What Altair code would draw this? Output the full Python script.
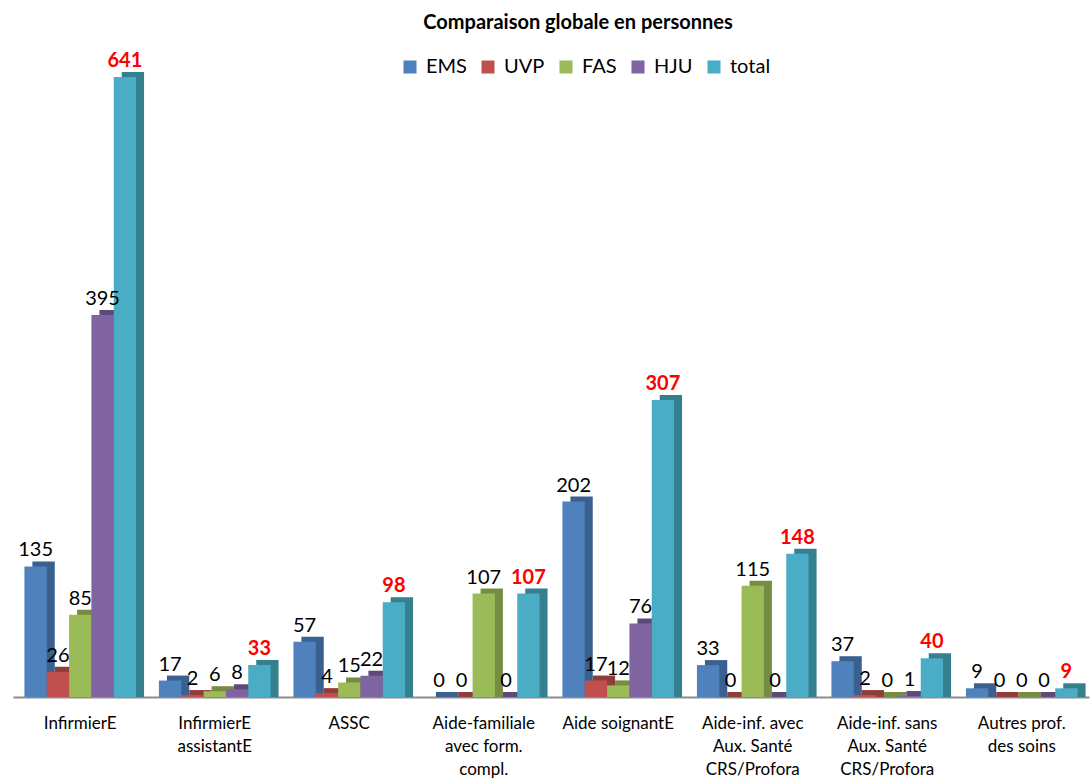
import altair as alt
import pandas as pd

categories = [
    "InfirmierE",
    "InfirmierE|assistantE",
    "ASSC",
    "Aide-familiale|avec form.|compl.",
    "Aide soignantE",
    "Aide-inf. avec|Aux. Santé|CRS/Profora",
    "Aide-inf. sans|Aux. Santé|CRS/Profora",
    "Autres prof.|des soins",
]
series = ["EMS", "UVP", "FAS", "HJU", "total"]
ems = [135, 17, 57, 0, 202, 33, 37, 9]
uvp = [26, 2, 4, 0, 17, 0, 2, 0]
fas = [85, 6, 15, 107, 12, 115, 0, 0]
hju = [395, 8, 22, 0, 76, 0, 1, 0]
total = [641, 33, 98, 107, 307, 148, 40, 9]

front_colors = ["#4F81BD", "#C0504D", "#9BBB59", "#8064A2", "#4BACC6"]
side_colors = ["#3A6090", "#8F3C3A", "#748D43", "#5E4A7A", "#34808F"]
side_map = dict(zip(series, side_colors))

rows = []
for s, vals in zip(series, [ems, uvp, fas, hju, total]):
    for c, v in zip(categories, vals):
        rows.append({"category": c, "series": s, "value": v, "dark": side_map[s]})
df = pd.DataFrame(rows)

FONT = "Lato"
WIDTH = 1076
PAD_IN, PAD_OUT = 0.17, 0.085
STEP = WIDTH / (len(categories) - PAD_IN + 2 * PAD_OUT)
BAND = STEP * (1 - PAD_IN)
DEPTH_X, DEPTH_Y = 8, -5

x_enc = alt.X(
    "category:N",
    sort=categories,
    scale=alt.Scale(paddingInner=PAD_IN, paddingOuter=PAD_OUT),
    axis=alt.Axis(
        title=None,
        labelAngle=0,
        labelExpr="split(datum.label, '|')",
        ticks=False,
        domainColor="#8C8C8C",
        domainWidth=2,
        labelFont=FONT,
        labelFontSize=17,
        labelColor="black",
        labelPadding=18,
        labelLineHeight=23,
        labelLimit=250,
        labelOverlap=False,
    ),
)
xo_front = alt.XOffset(
    "series:N", sort=series,
    scale=alt.Scale(domain=series, paddingInner=0, paddingOuter=0),
)
xo_back = alt.XOffset(
    "series:N", sort=series,
    scale=alt.Scale(domain=series, paddingInner=0, paddingOuter=0, range=[DEPTH_X, DEPTH_X + BAND]),
)
y_enc = alt.Y("value:Q", scale=alt.Scale(domain=[0, 641], nice=False, zero=True), axis=None)

base = alt.Chart(df)

back = base.mark_bar(yOffset=DEPTH_Y, y2Offset=0).encode(
    x=x_enc,
    xOffset=xo_back,
    y=y_enc,
    y2=alt.datum(0),
    color=alt.Color("dark:N", scale=None, legend=None),
)

front = base.mark_bar().encode(
    x=x_enc,
    xOffset=xo_front,
    y=y_enc,
    fill=alt.Fill(
        "series:N",
        sort=series,
        scale=alt.Scale(domain=series, range=front_colors),
        legend=alt.Legend(
            title=None,
            orient="none",
            legendX=387,
            legendY=-20,
            direction="horizontal",
            symbolType="square",
            symbolSize=170,
            symbolStrokeWidth=0,
            labelFont=FONT,
            labelFontSize=20,
            labelColor="black",
            labelOffset=6,
            columnPadding=11,
        ),
    ),
)

labels = base.transform_filter("datum.series != 'total'").mark_text(
    dy=-10, baseline="alphabetic", font=FONT, fontSize=20, color="black"
).encode(x=x_enc, xOffset=xo_front, y=y_enc, text=alt.Text("value:Q"))

total_labels = base.transform_filter("datum.series == 'total'").mark_text(
    dy=-10, baseline="alphabetic", font=FONT, fontSize=20, fontWeight="bold", color="#FF0000"
).encode(x=x_enc, xOffset=xo_front, y=y_enc, text=alt.Text("value:Q"))

front_group = alt.layer(front, labels, total_labels)

chart = (
    alt.layer(back, front_group)
    .resolve_scale(xOffset="independent")
    .properties(
        width=WIDTH,
        height=620,
        autosize=alt.AutoSizeParams(type="none"),
        padding={"left": 13, "top": 77, "right": 2, "bottom": 83},
        title=alt.TitleParams(
            "Comparaison globale en personnes",
            font=FONT,
            fontSize=20,
            fontWeight="bold",
            color="black",
            anchor="middle",
            frame="group",
            dx=27,
            offset=18,
        ),
    )
    .configure_view(stroke=None)
)

chart.save("out.html", embed_options={"renderer": "svg", "actions": False})
